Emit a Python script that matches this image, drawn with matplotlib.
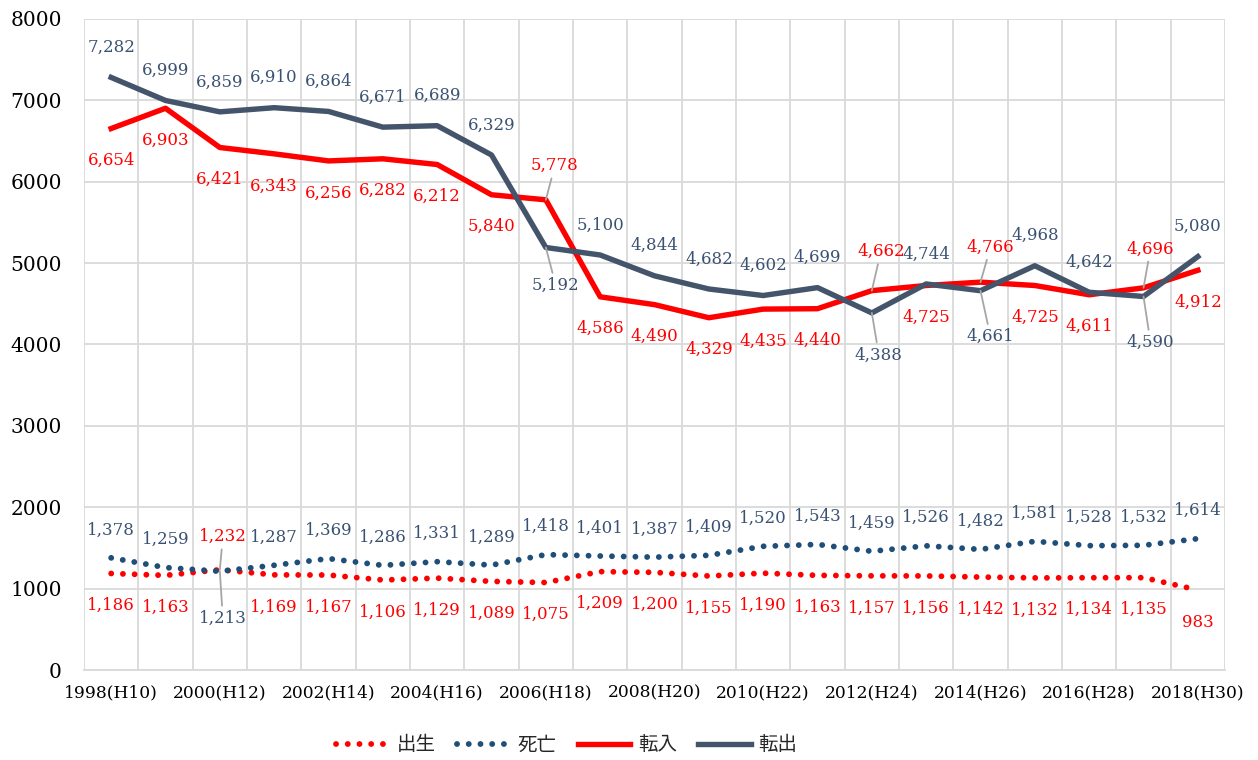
import matplotlib.pyplot as plt

years = list(range(1998, 2019))
xlabels = ['1998(H10)', '2000(H12)', '2002(H14)', '2004(H16)', '2006(H18)', '2008(H20)',
           '2010(H22)', '2012(H24)', '2014(H26)', '2016(H28)', '2018(H30)']

shussei = [1186, 1163, 1232, 1169, 1167, 1106, 1129, 1089, 1075, 1209, 1200,
           1155, 1190, 1163, 1157, 1156, 1142, 1132, 1134, 1135, 983]
shibou = [1378, 1259, 1213, 1287, 1369, 1286, 1331, 1289, 1418, 1401, 1387,
          1409, 1520, 1543, 1459, 1526, 1482, 1581, 1528, 1532, 1614]
tennyu = [6654, 6903, 6421, 6343, 6256, 6282, 6212, 5840, 5778, 4586, 4490,
          4329, 4435, 4440, 4662, 4725, 4766, 4725, 4611, 4696, 4912]
tenshutsu = [7282, 6999, 6859, 6910, 6864, 6671, 6689, 6329, 5192, 5100, 4844,
             4682, 4602, 4699, 4388, 4744, 4661, 4968, 4642, 4590, 5080]

RED = '#FF0000'
SLATE = '#44546A'
NAVY = '#1F4E79'
LBL = '#3A5272'
GRID = '#D9D9D9'

fig = plt.figure(figsize=(12.58, 7.6), dpi=100)
ax = fig.add_axes([84/1258, 1-670/760, (1225-84)/1258, (670-19)/760])

x = list(range(len(years)))
dot = (0, (0.01, 2.0))
ax.plot(x, shussei, color=RED, lw=4.2, linestyle=dot, dash_capstyle='round', label='出生', zorder=3)
ax.plot(x, shibou, color=NAVY, lw=4.2, linestyle=dot, dash_capstyle='round', label='死亡', zorder=3)
ax.plot(x, tennyu, color=RED, lw=3.9, label='転入', zorder=4)
ax.plot(x, tenshutsu, color=SLATE, lw=3.9, label='転出', zorder=5)

ax.set_xlim(-0.5, len(years) - 0.5)
ax.set_ylim(0, 8000)
ax.set_yticks(range(0, 8001, 1000))
ax.set_xticks(range(0, len(years), 2))
ax.set_xticklabels(xlabels)
ax.set_xticks([i - 0.5 for i in range(len(years) + 1)], minor=True)
ax.grid(True, which='minor', axis='x', color=GRID, lw=1.3)
ax.grid(True, which='major', axis='y', color=GRID, lw=1.3)
ax.set_axisbelow(True)
for s in ['top', 'right', 'left']:
    ax.spines[s].set_visible(False)
ax.spines['bottom'].set_color(GRID)
ax.spines['bottom'].set_linewidth(1.3)
ax.tick_params(axis='both', which='both', length=0)
ax.tick_params(axis='y', pad=16, labelsize=14.5)
ax.tick_params(axis='x', pad=10, labelsize=12.3)
for t in ax.get_xticklabels() + ax.get_yticklabels():
    t.set_family('DejaVu Serif')

# data labels: default offsets (pixels), some moved with leader lines
series = [
    ('out', tenshutsu, LBL, 30),
    ('in', tennyu, RED, -32),
    ('death', shibou, LBL, 28),
    ('birth', shussei, RED, -32),
]
moved = {
    ('out', 8): (10, -38), ('out', 14): (7, -42), ('out', 16): (10, -46), ('out', 19): (7, -46),
    ('in', 8): (9, 34), ('in', 14): (9, 39), ('in', 16): (10, 35), ('in', 19): (7, 39),
    ('birth', 2): (3, 33), ('death', 2): (3, -47),
}
for name, vals, col, dy in series:
    for i, v in enumerate(vals):
        off = moved.get((name, i), (0, dy))
        kw = {}
        if (name, i) in moved:
            kw['arrowprops'] = dict(arrowstyle='-', color='#A6A6A6', lw=1.3, shrinkA=1, shrinkB=0)
        ax.annotate(f'{v:,}', (i, v), xytext=off, textcoords='offset pixels',
                    ha='center', va='center', color=col, fontsize=12,
                    family='DejaVu Serif', zorder=6, **kw)

fig.legend(loc='center', bbox_to_anchor=(567/1258, 1-745/760), ncol=4, frameon=False,
           prop={'family': ['Noto Sans CJK JP', 'DejaVu Sans'], 'size': 14},
           handlelength=2.7, columnspacing=1.1, handletextpad=0.4, labelcolor='#262626')

fig.savefig('out.png', dpi=100)
